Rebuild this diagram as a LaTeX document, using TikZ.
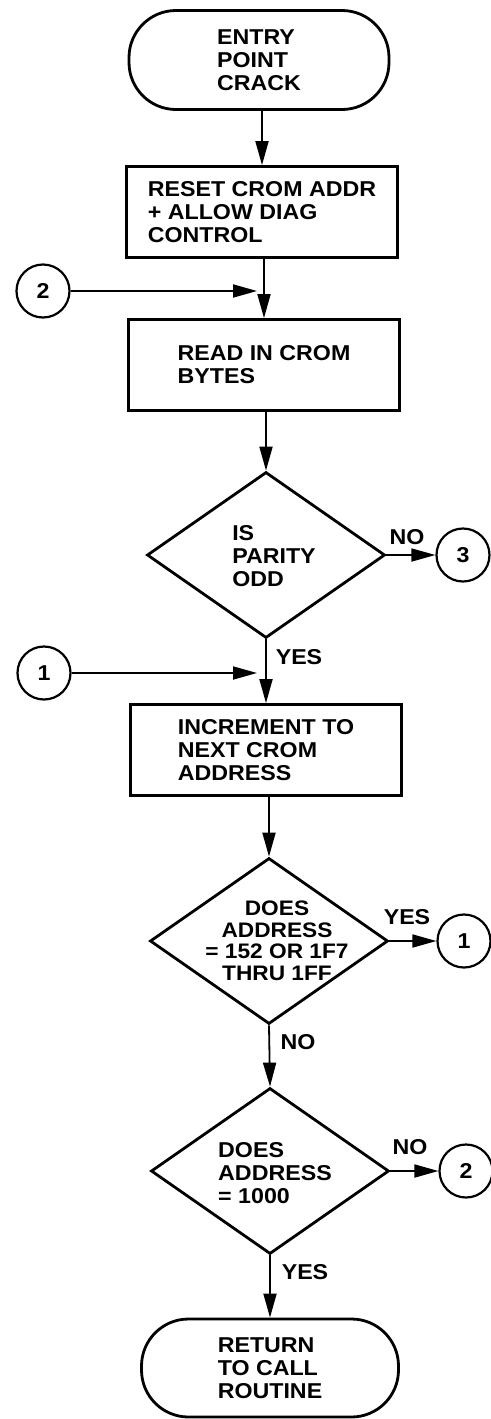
\documentclass[tikz,border=0pt]{standalone}
\usepackage{fontspec}
\setmainfont{Liberation Sans}[FakeStretch=1.08]
\usetikzlibrary{arrows.meta,shapes.geometric}
\begin{document}
\begin{tikzpicture}[x=1pt,y=-1pt,
  every node/.style={font=\fontsize{21.5}{23}\selectfont\bfseries},
  term/.style={draw,line width=2.8pt,rounded corners=47pt,minimum width=260pt,minimum height=99pt,inner sep=0pt,align=left},
  proc/.style={draw,line width=2.8pt,minimum width=271pt,minimum height=91pt,inner sep=0pt,align=left},
  decis/.style={draw,diamond,line width=2.8pt,minimum width=238pt,minimum height=166pt,inner sep=0pt},
  dtext/.style={align=left,inner sep=0pt},
  conn/.style={draw,circle,line width=2.2pt,minimum size=53pt,inner sep=0pt},
  lbl/.style={inner sep=0pt},
  flow/.style={line width=1.8pt,-{Triangle[length=24pt,width=13pt]}},
]
\useasboundingbox (0,0) rectangle (490,1419);

% main column
\node[term] (entry) at (259,60) {ENTRY\\POINT\\CRACK};
\node[proc] (box1) at (262,212) {RESET CROM ADDR\\+ ALLOW DIAG\\CONTROL};
\node[proc] (box2) at (264,365) {READ IN CROM\\BYTES};
\node[decis] (d1) at (266,555) {};
\node[dtext] (d1t) at (274,556) {IS\\PARITY\\ODD};
\node[proc] (box3) at (266,750) {INCREMENT TO\\NEXT CROM\\ADDRESS};
\node[decis] (d2) at (269,941) {};
\node[dtext,align=center,font=\fontsize{21}{21.5}\selectfont\bfseries] (d2t) at (277,941) {DOES\\ADDRESS\\= 152 OR 1F7\\THRU 1FF};
\node[decis] (d3) at (270,1171) {};
\node[dtext] (d3t) at (275,1173) {DOES\\ADDRESS\\= 1000};
\node[term,minimum width=257pt,minimum height=98pt] (ret) at (270,1368) {RETURN\\TO CALL\\ROUTINE};

% connectors (off-page)
\node[conn] (c2l) at (43,291) {2};
\node[conn] (c1l) at (44,673) {1};
\node[conn] (c3) at (463,555) {3};
\node[conn] (c1r) at (464,941) {1};
\node[conn] (c2r) at (466,1171) {2};

\coordinate (j2) at (257,291);
\coordinate (j1) at (257,673);

% flow lines
\draw[flow] (entry.south -| box1.north) -- (box1.north);
\draw[flow] (box1.south -| box2.north) -- (box2.north);
\draw[flow] (c2l.east) -- (j2);
\draw[flow] (box2.south -| d1.north) -- (d1.north);
\draw[flow] (d1.east) -- (c3.west);
\draw[flow] (d1.south) -- (box3.north);
\draw[flow] (c1l.east) -- (j1);
\draw[flow] (box3.south -| d2.north) -- (d2.north);
\draw[flow] (d2.east) -- (c1r.west);
\draw[flow] (d2.south) -- (d3.north);
\draw[flow] (d3.east) -- (c2r.west);
\draw[flow] (d3.south) -- (ret.north);

% labels
\node[lbl] (n1) at (407,537) {NO};
\node[lbl] (y1) at (299,657) {YES};
\node[lbl] (y2) at (407,917) {YES};
\node[lbl] (n2) at (298,1042) {NO};
\node[lbl] (n3) at (410,1147) {NO};
\node[lbl] (y3) at (305,1272) {YES};
\end{tikzpicture}
\end{document}
